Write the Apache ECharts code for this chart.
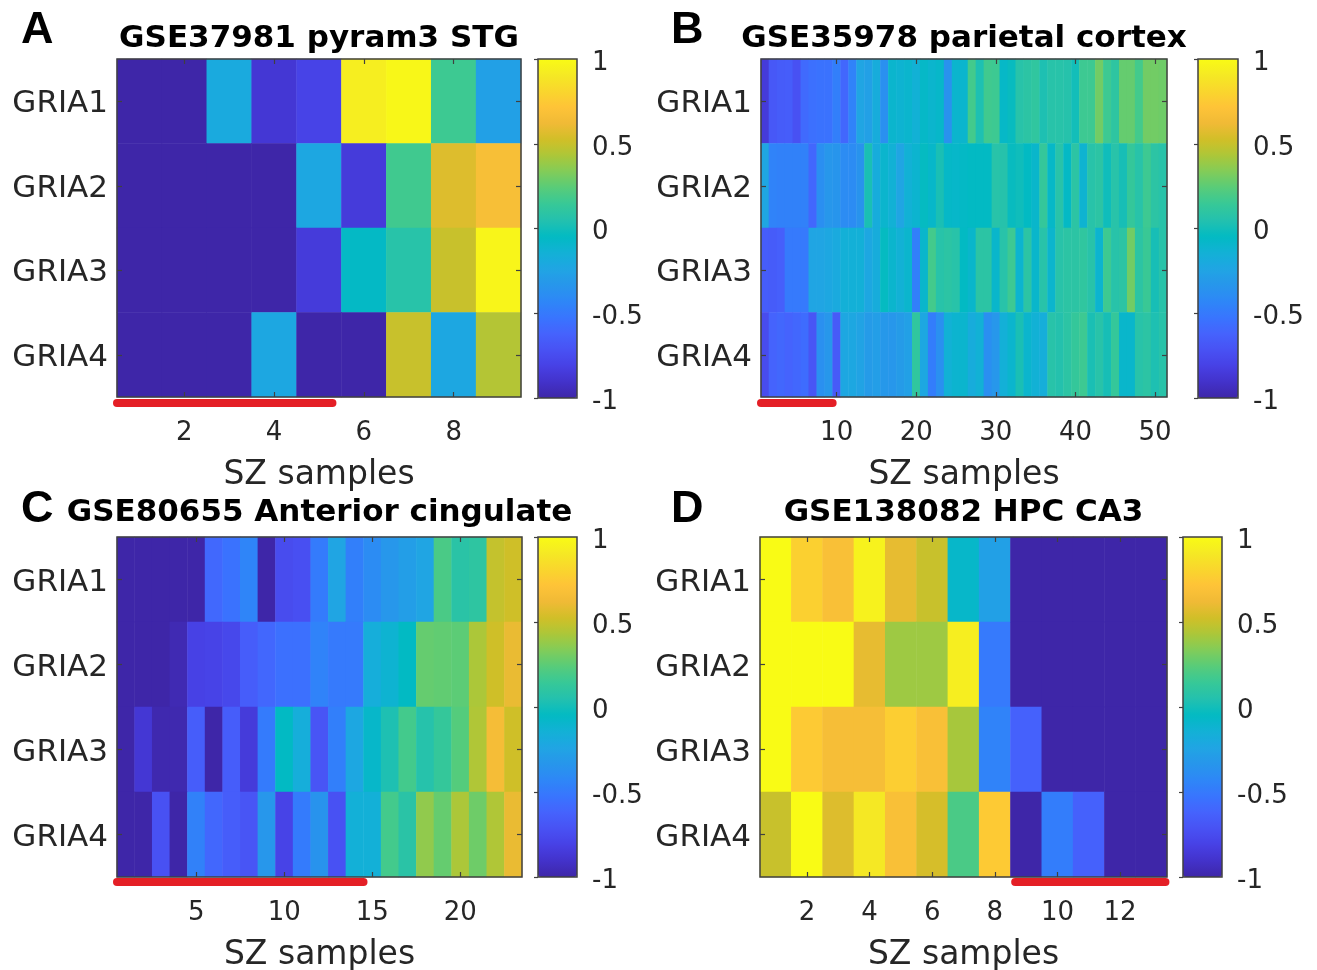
<!DOCTYPE html>
<html>
<head>
<meta charset="utf-8">
<title>GRIA expression heatmaps</title>
<script src="https://cdn.jsdelivr.net/npm/echarts@6/dist/echarts.min.js"></script>
<style>
  html, body { margin: 0; padding: 0; background: #fff; }
  #chart { width: 1317px; height: 970px; }
</style>
</head>
<body>
<div id="chart"></div>
<script>
// -------------------------
// Data
// -------------------------

// Rows of every panel, top to bottom
const genes = ['GRIA1', 'GRIA2', 'GRIA3', 'GRIA4'];

// A: GSE37981 pyram3 STG, 9 SZ samples
const titleA = 'GSE37981 pyram3 STG';
const valuesA = [
	[-1, -1, -0.2, -0.87, -0.8, 0.93, 0.98, 0.16, -0.27],
	[-1, -1, -1, -1, -0.22, -0.85, 0.17, 0.56, 0.67],
	[-1, -1, -1, -1, -0.85, -0.06, 0.07, 0.5, 0.97],
	[-1, -1, -1, -0.22, -1, -1, 0.5, -0.22, 0.45]
];
const ticksA = [2, 4, 6, 8];
const redA = [0.5, 5.3];

// B: GSE35978 parietal cortex, 51 SZ samples
const titleB = 'GSE35978 parietal cortex';
const valuesB = [
	[-0.85, -0.68, -0.66, -0.65, -0.72, -0.58, -0.55, -0.54, -0.54, -0.47,
	 -0.6, -0.45, -0.24, -0.27, -0.18, -0.37, -0.1, -0.12, -0.1, -0.14,
	 -0.07, -0.1, -0.08, -0.36, -0.1, -0.1, 0.18, 0.03, 0.17, 0.16,
	 -0.07, -0.03, 0.07, 0.09, 0.11, 0.03, 0.07, 0.07, 0.06, 0.0,
	 0.16, 0.16, 0.3, 0.16, 0.1, 0.27, 0.27, 0.18, 0.3, 0.3, 0.29],
	[-0.23, -0.45, -0.46, -0.46, -0.46, -0.46, -0.6, -0.38, -0.33, -0.34,
	 -0.4, -0.4, -0.35, 0.02, -0.18, -0.1, -0.14, -0.24, -0.14, -0.11,
	 -0.04, -0.08, 0.02, -0.07, -0.08, -0.06, -0.05, -0.05, -0.05, 0.07,
	 0.06, -0.03, -0.01, -0.05, -0.09, 0.13, -0.07, 0.07, -0.06, 0.09,
	 -0.12, 0.07, 0.09, -0.01, 0.07, 0.01, 0.13, 0.07, 0.16, 0.09, 0.07],
	[-0.65, -0.66, -0.64, -0.5, -0.5, -0.5, -0.24, -0.24, -0.22, -0.2,
	 -0.15, -0.15, -0.15, -0.22, -0.18, -0.04, -0.1, -0.14, -0.1, -0.47,
	 -0.09, 0.18, 0.07, 0.09, 0.07, -0.05, -0.09, 0.09, 0.09, -0.09,
	 0.07, 0.16, -0.11, 0.09, -0.09, 0.07, -0.1, 0.07, 0.09, 0.09,
	 0.11, 0.07, -0.11, 0.16, 0.07, 0.09, 0.3, 0.09, 0.15, 0.01, 0.07],
	[-0.75, -0.62, -0.6, -0.62, -0.6, -0.57, -0.7, -0.37, -0.33, -0.67,
	 -0.22, -0.22, -0.25, -0.3, -0.28, -0.32, -0.33, -0.3, -0.27, 0.11,
	 -0.22, -0.48, -0.37, -0.14, -0.11, -0.1, -0.18, -0.14, -0.38, -0.33,
	 -0.15, -0.1, 0.02, -0.1, -0.14, -0.17, 0.07, 0.05, 0.09, 0.13,
	 0.16, 0.02, 0.07, 0.01, 0.13, -0.09, -0.09, 0.07, 0.09, 0.03, 0.07]
];
const ticksB = [10, 20, 30, 40, 50];
const redB = [0.5, 9.5];

// C: GSE80655 Anterior cingulate, 23 SZ samples
const titleC = 'GSE80655 Anterior cingulate';
const valuesC = [
	[-1, -1, -1, -1, -1, -0.59, -0.54, -0.44, -1, -0.75, -0.73, -0.49,
	 -0.24, -0.47, -0.4, -0.33, -0.28, -0.24, 0.2, 0.08, 0.1, 0.49, 0.52],
	[-1, -1, -1, -0.97, -0.81, -0.8, -0.77, -0.65, -0.6, -0.55, -0.55, -0.45,
	 -0.5, -0.5, -0.17, -0.12, -0.05, 0.27, 0.26, 0.25, 0.43, 0.52, 0.6],
	[-1, -0.87, -0.98, -0.98, -0.65, -1, -0.65, -0.85, -0.49, -0.05, -0.17, -0.7,
	 -0.47, -0.22, -0.08, 0.03, 0.18, 0.06, 0.13, 0.23, 0.44, 0.65, 0.52],
	[-1, -1, -0.72, -1, -0.46, -0.6, -0.65, -0.7, -0.33, -0.8, -0.49, -0.35,
	 -0.72, -0.15, -0.15, 0.18, 0.08, 0.37, 0.27, 0.43, 0.29, 0.44, 0.6]
];
const ticksC = [5, 10, 15, 20];
const redC = [0.5, 14.5];

// D: GSE138082 HPC CA3, 13 SZ samples
const titleD = 'GSE138082 HPC CA3';
const valuesD = [
	[1.0, 0.78, 0.68, 0.95, 0.59, 0.5, -0.08, -0.27, -1, -1, -1, -1, -1],
	[1.0, 1.0, 1.0, 0.59, 0.4, 0.4, 0.93, -0.5, -1, -1, -1, -1, -1],
	[1.0, 0.75, 0.66, 0.66, 0.77, 0.68, 0.42, -0.45, -0.63, -1, -1, -1, -1],
	[0.5, 1.0, 0.56, 0.9, 0.68, 0.54, 0.2, 0.75, -1, -0.48, -0.63, -1, -1]
];
const ticksD = [2, 4, 6, 8, 10, 12];
const redD = [8.65, 13.45];

// -------------------------
// Style
// -------------------------

// MATLAB parula, every third entry of the 64 colour table
const parula = ['#3e26a8', '#4332cb', '#4741e5', '#4852f4', '#4563fd', '#3875fe',
	'#2e87f7', '#2796eb', '#20a5e3', '#12b1d6', '#02bac3', '#24c1ae', '#37c897',
	'#57cc7a', '#81cc59', '#abc739', '#d1bf27', '#f0ba36', '#fec338', '#fad62d',
	'#f5e924', '#f9fb15'];

const font = 'DejaVu Sans';
const ink = '#262626';
const boxColor = '#404040';
const redColor = '#e41f26';

// plot rect, colorbar rect, title top, letter position, red bar gap
const panels = [
	{ letter: 'A', title: titleA, values: valuesA, ticks: ticksA, red: redA,
		plot: [117, 59, 404, 338], bar: [538, 59, 39, 339], titleTop: 23, letterPos: [21, 8], redGap: 6 },
	{ letter: 'B', title: titleB, values: valuesB, ticks: ticksB, red: redB,
		plot: [761, 59, 406, 338], bar: [1198, 59, 40, 339], titleTop: 23, letterPos: [671, 8], redGap: 6 },
	{ letter: 'C', title: titleC, values: valuesC, ticks: ticksC, red: redC,
		plot: [117, 537, 405, 340], bar: [538, 537, 39, 340], titleTop: 497, letterPos: [21, 487], redGap: 5 },
	{ letter: 'D', title: titleD, values: valuesD, ticks: ticksD, red: redD,
		plot: [760, 537, 407, 340], bar: [1183, 537, 39, 340], titleTop: 497, letterPos: [671, 487], redGap: 5 }
];

// -------------------------
// Build option
// -------------------------
const option = {
	animation: false,
	backgroundColor: '#ffffff',
	title: [],
	grid: [],
	xAxis: [],
	yAxis: [],
	visualMap: [],
	series: []
};

const insideTick = (interval) => ({
	show: true,
	inside: true,
	length: 5,
	alignWithLabel: true,
	interval: interval,
	lineStyle: { color: boxColor, width: 1.2 }
});

panels.forEach(p => {
	const [gx, gy, gw, gh] = p.plot;
	const [bx, by, bw, bh] = p.bar;
	const n = p.values[0].length;
	const samples = p.values[0].map((_, k) => String(k + 1));
	const showTick = (idx, val) => p.ticks.includes(Number(val));

	// --- Titles ---
	option.title.push({
		text: p.title, left: gx + gw / 2, top: p.titleTop, padding: 0,
		textAlign: 'center', textVerticalAlign: 'top',
		textStyle: { fontFamily: font, fontSize: 31, fontWeight: 'bold', color: '#000' }
	});
	option.title.push({
		text: p.letter, left: p.letterPos[0], top: p.letterPos[1], padding: 0,
		textAlign: 'left', textVerticalAlign: 'top',
		textStyle: { fontFamily: 'Liberation Sans', fontSize: 45, fontWeight: 'bold', color: '#000' }
	});

	// --- Grids: heatmap, colorbar, red bar ---
	const g0 = option.grid.length;
	option.grid.push(
		{ left: gx, top: gy, width: gw, height: gh, containLabel: false, outerBoundsMode: 'none',
			show: true, borderColor: boxColor, borderWidth: 1.5, backgroundColor: 'transparent', z: 10 },
		{ left: bx, top: by, width: bw, height: bh, containLabel: false, outerBoundsMode: 'none',
			show: true, borderColor: boxColor, borderWidth: 1.5, backgroundColor: 'transparent', z: 10 },
		{ left: gx, top: gy + gh + p.redGap - 1, width: gw, height: 2, containLabel: false, outerBoundsMode: 'none' }
	);

	// --- Axes ---
	const x0 = option.xAxis.length;
	option.xAxis.push(
		{
			type: 'category', gridIndex: g0, data: samples, position: 'bottom', z: 10,
			axisLine: { show: false }, splitLine: { show: false },
			axisTick: insideTick(showTick),
			axisLabel: { interval: showTick, margin: 23, fontFamily: font, fontSize: 26, color: ink },
			name: 'SZ samples', nameLocation: 'middle', nameGap: 62,
			nameTextStyle: { fontFamily: font, fontSize: 33, color: ink }
		},
		{
			type: 'category', gridIndex: g0, data: samples, position: 'top', z: 10,
			axisLine: { show: false }, splitLine: { show: false },
			axisTick: insideTick(showTick), axisLabel: { show: false }
		},
		{ type: 'value', gridIndex: g0 + 1, min: 0, max: 1, show: false },
		{ type: 'value', gridIndex: g0 + 2, min: 0.5, max: n + 0.5, show: false }
	);

	// labels sit a few px under their ticks, as in the MATLAB figure
	const y0 = option.yAxis.length;
	option.yAxis.push(
		{
			type: 'category', gridIndex: g0, data: genes, inverse: true, position: 'left', z: 10,
			axisLine: { show: false }, splitLine: { show: false },
			axisTick: insideTick(0),
			axisLabel: { margin: 9, verticalAlign: 'top', lineHeight: 6, fontFamily: font, fontSize: 31, color: ink }
		},
		{
			type: 'category', gridIndex: g0, data: genes, inverse: true, position: 'right', z: 10,
			axisLine: { show: false }, splitLine: { show: false },
			axisTick: insideTick(0), axisLabel: { show: false }
		},
		{
			type: 'value', gridIndex: g0 + 1, min: -1, max: 1, interval: 0.5, position: 'right', z: 10,
			axisLine: { show: false }, splitLine: { show: false },
			axisTick: { show: true, inside: true, length: 4, lineStyle: { color: boxColor, width: 1.2 } },
			axisLabel: { margin: 15, verticalAlign: 'top', lineHeight: 8, fontFamily: font, fontSize: 26, color: ink }
		},
		{ type: 'value', gridIndex: g0 + 2, min: -1, max: 1, show: false }
	);

	// --- Series ---
	const data = [];
	p.values.forEach((row, r) => row.forEach((v, c) => data.push([c, r, v])));

	const heatIndex = option.series.length;
	option.series.push(
		{
			type: 'heatmap', xAxisIndex: x0, yAxisIndex: y0, data: data,
			itemStyle: { borderWidth: 0 }, emphasis: { disabled: true }, silent: true
		},
		{
			type: 'line', xAxisIndex: x0 + 3, yAxisIndex: y0 + 3,
			data: [[p.red[0], 0], [p.red[1], 0]],
			symbol: 'none', clip: false, silent: true, z: 5,
			lineStyle: { color: redColor, width: 8, cap: 'round' }
		}
	);

	// --- Colorbar ---
	option.visualMap.push({
		type: 'continuous', seriesIndex: heatIndex, min: -1, max: 1,
		calculable: false, hoverLink: false, orient: 'vertical',
		left: bx, top: by, itemWidth: bw, itemHeight: bh, padding: 0,
		inRange: { color: parula }
	});
});

const chart = echarts.init(document.getElementById('chart'), null, { renderer: 'canvas' });
chart.setOption(option);
</script>
</body>
</html>
